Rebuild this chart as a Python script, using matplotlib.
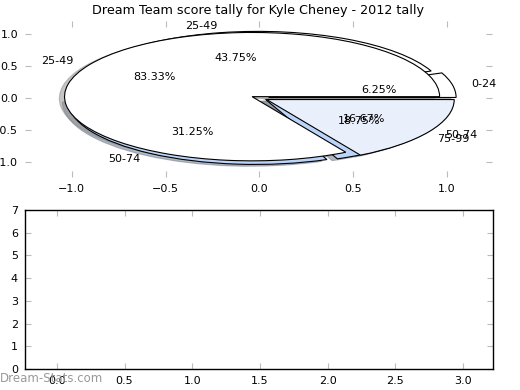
import matplotlib
matplotlib.use('Agg')
import matplotlib.pyplot as plt

# pie data (two pies drawn on the same axes, as in the original)
labels_a = ['0-24', '25-49', '50-74', '75-99']
pct_a = [6.25, 43.75, 31.25, 18.75]
labels_b = ['25-49', '50-74']
pct_b = [83.33, 16.67]

colors_a = ['white', 'white', '#bcd4f7', '#bcd4f7']
colors_b = ['white', '#eaf0fb']

bottom_xticks = [0.0, 0.5, 1.0, 1.5, 2.0, 2.5, 3.0]
bottom_yticks = [0, 1, 2, 3, 4, 5, 6, 7]

fig = plt.figure(figsize=(5.2, 3.9), dpi=100)
ax1 = fig.add_axes([0.048, 0.546, 0.898, 0.40])
ax2 = fig.add_axes([0.048, 0.054, 0.900, 0.4075])

shadow = {'ox': -0.02, 'oy': -0.02, 'shade': 0.45}
ax1.pie(pct_a, labels=labels_a, colors=colors_a, autopct='%1.2f%%',
        explode=[0.05, 0.04, 0.04, 0.04], shadow=shadow,
        wedgeprops={'edgecolor': 'black', 'linewidth': 0.8},
        textprops={'fontsize': 8})
ax1.pie(pct_b, labels=labels_b, colors=colors_b, autopct='%1.2f%%',
        explode=[0.045, 0.045], shadow=shadow,
        wedgeprops={'edgecolor': 'black', 'linewidth': 0.8},
        textprops={'fontsize': 8})

ax1.set_aspect('auto')
ax1.set_xlim(-1.25, 1.24)
ax1.set_ylim(-1.23, 1.2)
ax1.set_xticks([-1.0, -0.5, 0.0, 0.5, 1.0])
ax1.set_yticks([-1.0, -0.5, 0.0, 0.5, 1.0])
ax1.set_frame_on(False)
ax1.tick_params(direction='in', color='#bbbbbb', length=4, top=True, right=True,
                labelsize=8, pad=5)
ax1.set_title('Dream Team score tally for Kyle Cheney - 2012 tally', fontsize=9.2, pad=5)

ax2.set_xlim(-0.235, 3.22)
ax2.set_ylim(0, 7)
ax2.set_xticks(bottom_xticks)
ax2.set_yticks(bottom_yticks)
ax2.tick_params(direction='in', color='#bbbbbb', length=4, top=True, right=True,
                labelsize=8, pad=5)
for s in ax2.spines.values():
    s.set_linewidth(1.0)

fig.text(0.0, 0.02, 'Dream-Stats.com', color='#999999', fontsize=8.5)

fig.savefig('out.png', dpi=100)
